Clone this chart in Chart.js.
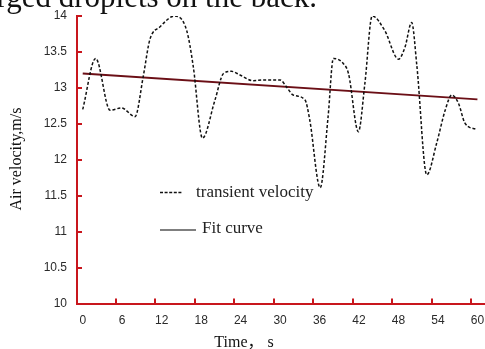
<!DOCTYPE html>
<html>
<head>
<meta charset="utf-8">
<script src="https://cdn.jsdelivr.net/npm/chart.js@4/dist/chart.umd.min.js"></script>
<style>
html,body{margin:0;padding:0;background:#fff;}
#wrap{position:relative;width:485px;height:349px;}
</style>
</head>
<body>
<div id="wrap"><canvas id="c" width="485" height="349"></canvas></div>
<script>
// ---- data ----
const timeSeconds = [0, 1.97, 4.15, 5.9, 7.95, 9.2, 10.2, 11.75, 14.0, 15.8, 16.8, 18.2, 20.1, 21.4, 22.6, 23.9, 25.9, 27.5, 30.0, 31.0, 32.0, 33.8, 34.5, 36.1, 37.3, 38.1, 39.6, 40.4, 41.9, 42.9, 44.0, 45.9, 48.0, 49.0, 50.0, 50.8, 52.3, 53.8, 55.1, 56.1, 57.1, 58.1, 59.9];
const transientVelocity = [12.70, 13.41, 12.69, 12.72, 12.60, 13.16, 13.67, 13.85, 14.0, 13.80, 13.30, 12.30, 12.83, 13.20, 13.23, 13.18, 13.10, 13.11, 13.11, 13.01, 12.90, 12.83, 12.56, 11.61, 12.60, 13.41, 13.34, 13.20, 12.39, 13.07, 14.0, 13.80, 13.40, 13.57, 13.91, 13.30, 11.79, 12.23, 12.69, 12.90, 12.79, 12.51, 12.42];
const fitTime = [0, 60];
const fitVelocity = [13.20, 12.84];
const xTickLabels = [0, 6, 12, 18, 24, 30, 36, 42, 48, 54, 60];
const yTickLabels = [10, 10.5, 11, 11.5, 12, 12.5, 13, 13.5, 14];
const seriesNames = ['transient velocity', 'Fit curve'];
const xTitle = 'Time\uFF0C s';
const yTitle = 'Air velocity,m/s';
const topText = 'charged droplets on the back.';

const RED = '#c8161d';
const SERIF = '"Liberation Serif", "DejaVu Serif", "Noto Sans CJK SC", serif';
const SANS = '"Liberation Sans", "DejaVu Sans", sans-serif';

const decor = {
  id: 'decor',
  afterDraw(chart) {
    const ctx = chart.ctx;
    const xs = chart.scales.x, ys = chart.scales.y;
    const area = chart.chartArea;
    ctx.save();
    // y tick marks (inside)
    ctx.strokeStyle = RED; ctx.lineWidth = 2;
    yTickLabels.forEach(v => {
      const y = Math.round(ys.getPixelForValue(v));
      ctx.beginPath(); ctx.moveTo(area.left, y); ctx.lineTo(area.left + 5, y); ctx.stroke();
    });
    // x tick marks (inside, offset left of the labels)
    xTickLabels.forEach(v => {
      if (v === 0) return;
      const x = Math.round(xs.getPixelForValue(v) - 6.3);
      ctx.beginPath(); ctx.moveTo(x, area.bottom); ctx.lineTo(x, area.bottom - 5); ctx.stroke();
    });
    // legend
    ctx.lineWidth = 1.3; ctx.strokeStyle = '#111'; ctx.setLineDash([3, 1.6]);
    ctx.beginPath(); ctx.moveTo(160, 192.5); ctx.lineTo(182, 192.5); ctx.stroke();
    ctx.setLineDash([]);
    ctx.strokeStyle = '#555'; ctx.lineWidth = 1.5;
    ctx.beginPath(); ctx.moveTo(160, 230); ctx.lineTo(196, 230); ctx.stroke();
    ctx.fillStyle = '#222';
    ctx.font = '17px ' + SERIF;
    ctx.textAlign = 'left'; ctx.textBaseline = 'alphabetic';
    ctx.fillText(seriesNames[0], 196, 197);
    ctx.fillText(seriesNames[1], 202, 233);
    // axis titles
    ctx.fillStyle = '#111';
    ctx.font = '16px ' + SERIF;
    ctx.textAlign = 'center';
    ctx.fillText(xTitle, 244, 347);
    ctx.save();
    ctx.translate(21, 159);
    ctx.rotate(-Math.PI / 2);
    ctx.textBaseline = 'alphabetic';
    ctx.fillText(yTitle, 0, 0);
    ctx.restore();
    // clipped text from the page above
    ctx.font = '31px ' + SERIF;
    ctx.fillStyle = '#111';
    ctx.textAlign = 'right';
    ctx.fillText(topText, 317, 7);
    ctx.restore();
  }
};

new Chart(document.getElementById('c'), {
  type: 'line',
  data: {
    datasets: [
      {
        label: seriesNames[0],
        data: timeSeconds.map((t, i) => ({ x: t, y: transientVelocity[i] })),
        borderColor: '#111',
        borderWidth: 1.5,
        borderDash: [3, 2],
        pointRadius: 0,
        fill: false,
        cubicInterpolationMode: 'monotone'
      },
      {
        label: seriesNames[1],
        data: fitTime.map((t, i) => ({ x: t, y: fitVelocity[i] })),
        borderColor: '#6b0f16',
        borderWidth: 2,
        pointRadius: 0,
        fill: false
      }
    ]
  },
  options: {
    responsive: false,
    animation: false,
    events: [],
    layout: { padding: { top: 16, right: 0, left: 0, bottom: 0 } },
    plugins: { legend: { display: false }, tooltip: { enabled: false }, title: { display: false } },
    scales: {
      x: {
        type: 'linear',
        min: -0.87,
        max: 61.15,
        afterBuildTicks: s => { s.ticks = xTickLabels.map(v => ({ value: v })); },
        afterFit: s => { s.height = 45.5; s.paddingLeft = 0; s.paddingRight = 0; },
        grid: { display: true, drawOnChartArea: false, drawTicks: false },
        border: { display: true, color: RED, width: 2 },
        ticks: { padding: 10, autoSkip: false, maxRotation: 0, color: '#2a2a2a', font: { family: SANS, size: 12 }, callback: v => String(v) }
      },
      y: {
        min: 10,
        max: 14,
        afterBuildTicks: s => { s.ticks = yTickLabels.map(v => ({ value: v })); },
        afterFit: s => { s.width = 77; s.paddingTop = 0; s.paddingBottom = 0; },
        grid: { display: true, drawOnChartArea: false, drawTicks: false },
        border: { display: true, color: RED, width: 2 },
        ticks: { padding: 10, color: '#2a2a2a', font: { family: SANS, size: 12 }, callback: v => String(v) }
      }
    }
  },
  plugins: [decor]
});
</script>
</body>
</html>
